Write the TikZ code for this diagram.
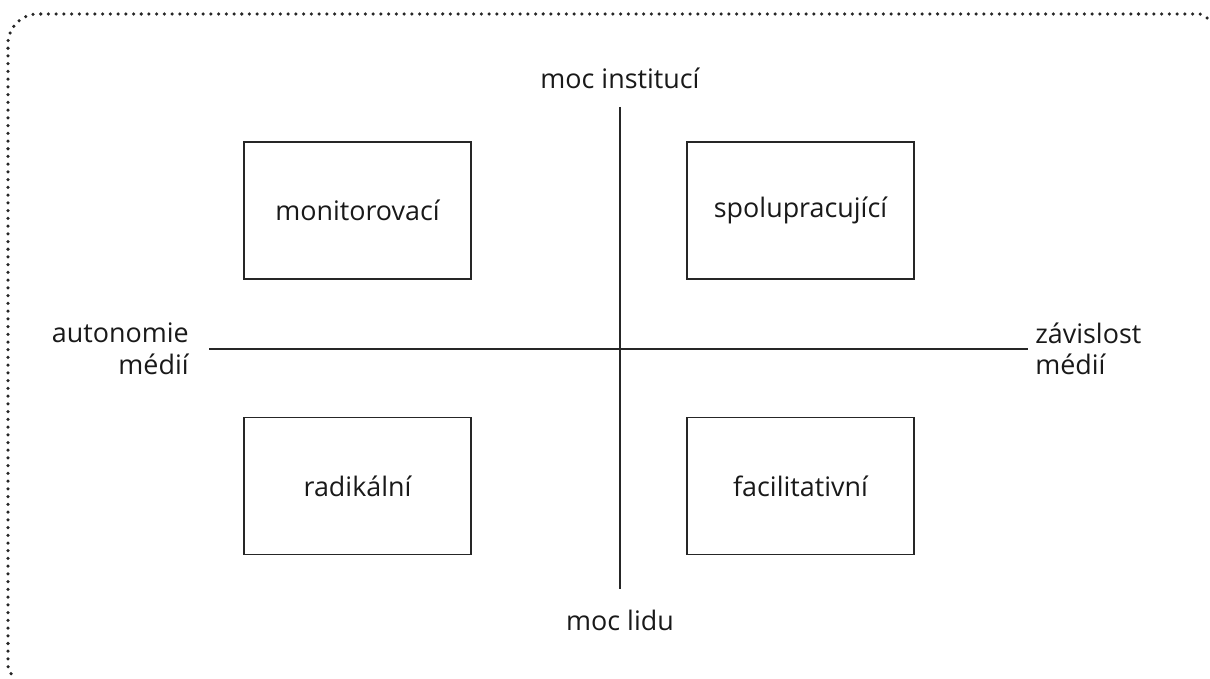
\documentclass[tikz,border=0pt]{standalone}
\usepackage{fontspec}
\setmainfont{Open Sans}[Ligatures={Common,Discretionary}]
\usepackage{tikz}
\usetikzlibrary{positioning}

\tikzset{
  type box/.style={draw=black!85, line width=1.1pt, minimum width=4.54cm, minimum height=2.74cm, inner sep=0pt},
  axis line/.style={draw=black!85, line width=1.1pt},
  axis label/.style={inner sep=0pt, align=center},
  frame line/.style={draw=black!85, line width=2pt, line cap=round, dash pattern=on 0pt off 4.4pt}
}

\begin{document}
\begin{tikzpicture}[x=0.02cm, y=-0.02cm, font=\fontsize{15.3}{18}\selectfont\color{black!90}]
\useasboundingbox (0,0) rectangle (1210,679);

% dotted frame, only top and left side visible
\draw [frame line] (1207,18) -- (1200,14) -- (38,14) to[out=180,in=90] (8,44) -- (8,666) to[out=270,in=120] (14,678);

% axes
\coordinate (top) at (620,107);
\coordinate (bottom) at (620,589);
\coordinate (left) at (209,349);
\coordinate (right) at (1028,349);
\draw [axis line] (top) -- (bottom);
\draw [axis line] (left) -- (right);

\node [axis label, above=10pt of top] (inst) {moc institucí};
\node [axis label, below=12pt of bottom] (lid) {moc lidu};
\node [axis label, align=right, anchor=east] (auto) at (189,349) {autonomie\\médií};
\node [axis label, align=left, anchor=west] (zav) at (1035,349) {závislost\\médií};

% quadrants
\foreach \name/\txt/\x/\y in {mon/monitorovací/357.5/210.5, spol/spolupracující/800.5/210.5,
                              rad/radikální/357.5/486, fac/facilitativní/800.5/486}
  \node [type box] (\name) at (\x,\y) {\txt};
\end{tikzpicture}
\end{document}
